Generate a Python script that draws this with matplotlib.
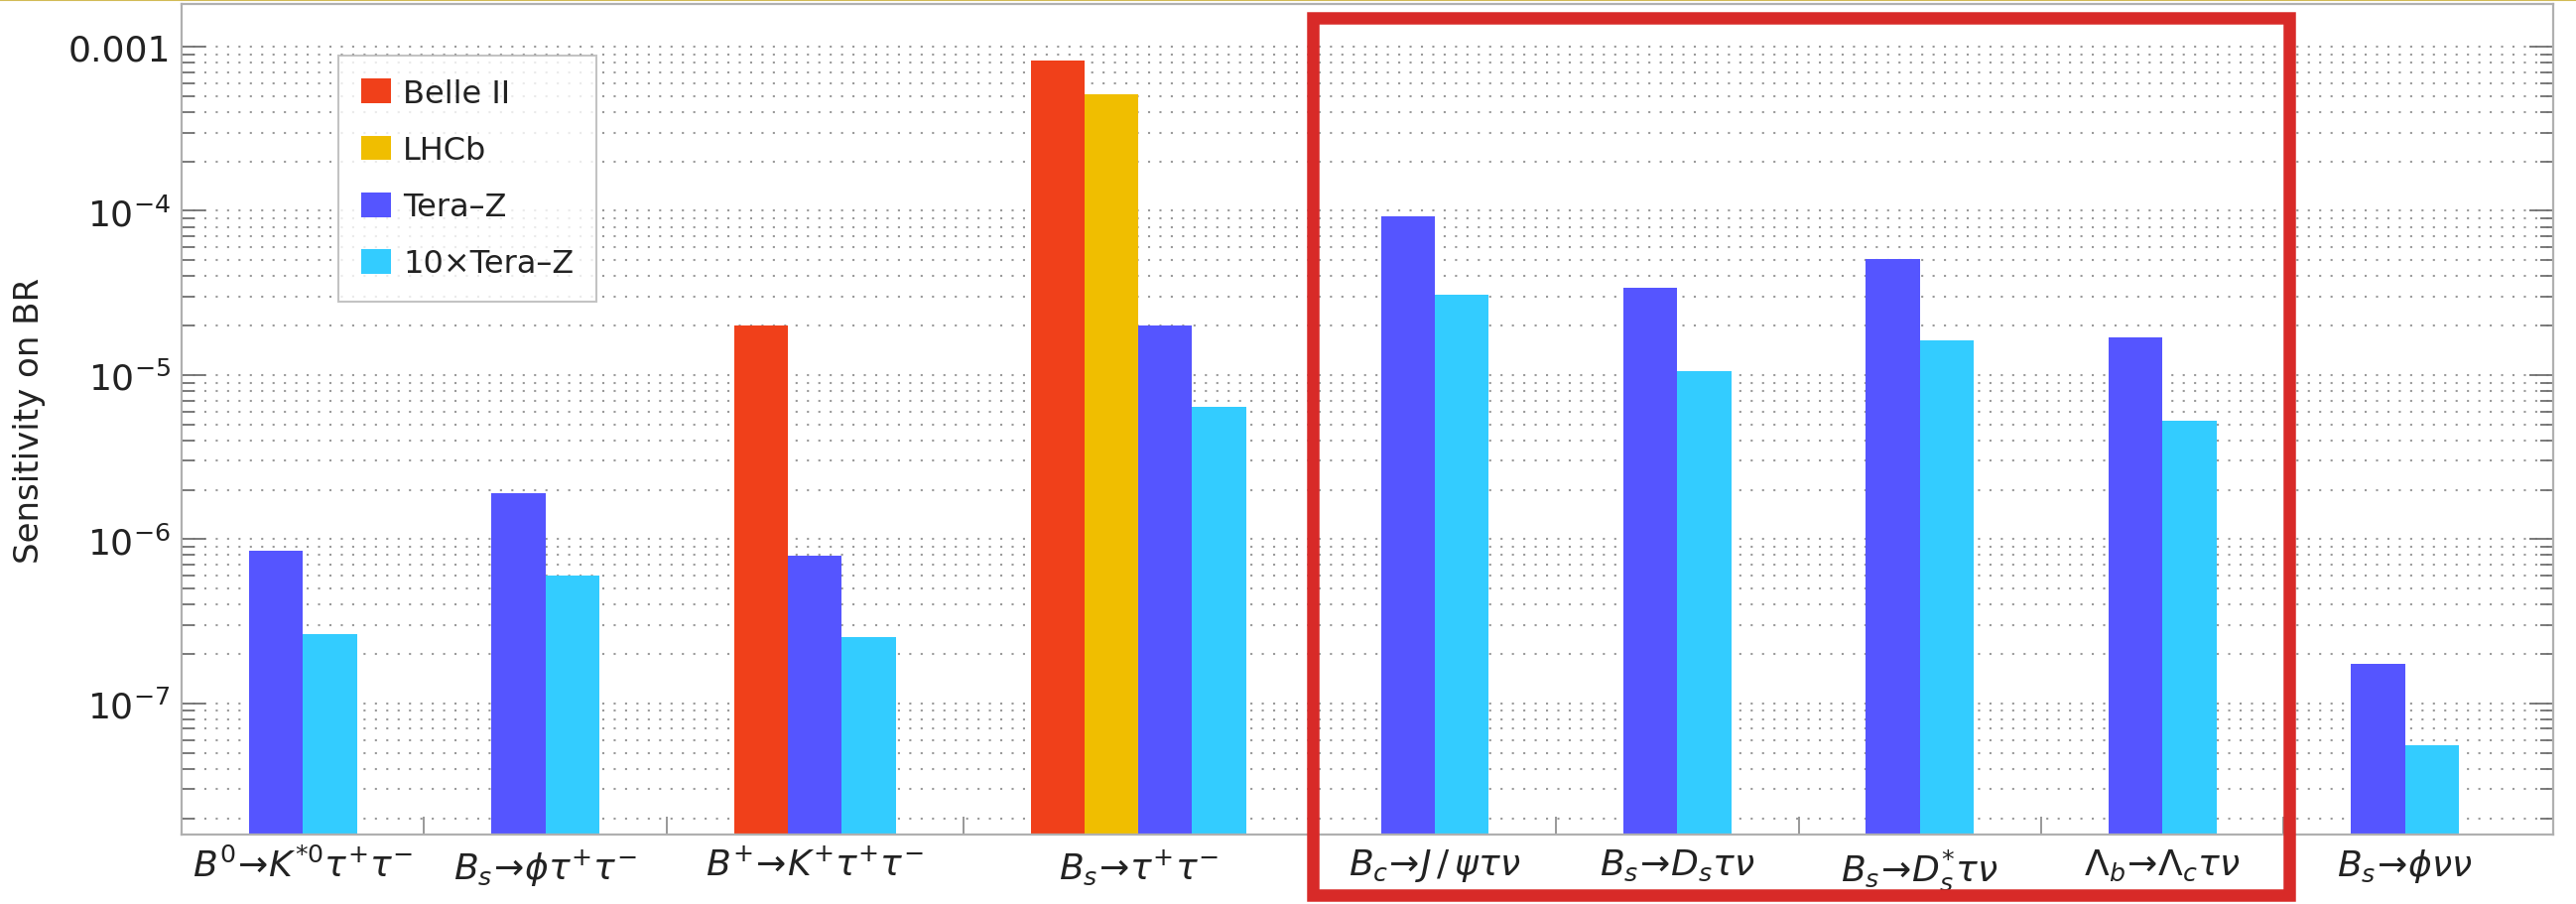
import numpy as np
import matplotlib.pyplot as plt
from matplotlib.patches import Patch, Rectangle
from matplotlib.ticker import LogLocator, FuncFormatter, NullFormatter

# Channels (x groups) and sensitivities
channels = [r"$B^0\!\to\!K^{*0}\tau^{+}\tau^{-}$", r"$B_s\!\to\!\phi\tau^{+}\tau^{-}$",
            r"$B^{+}\!\to\!K^{+}\tau^{+}\tau^{-}$", r"$B_s\!\to\!\tau^{+}\tau^{-}$",
            r"$B_c\!\to\!J\,/\,\psi\tau\nu$", r"$B_s\!\to\!D_s\tau\nu$",
            r"$B_s\!\to\!D_s^{*}\tau\nu$", r"$\Lambda_b\!\to\!\Lambda_c\tau\nu$",
            r"$B_s\!\to\!\phi\nu\nu$"]
belle2 = [None, None, 2.0e-5, 8.2e-4, None, None, None, None, None]
lhcb = [None, None, None, 5.1e-4, None, None, None, None, None]
teraz = [8.5e-7, 1.9e-6, 7.9e-7, 2.0e-5, 9.2e-5, 3.4e-5, 5.1e-5, 1.7e-5, 1.75e-7]
teraz10 = [2.65e-7, 6.0e-7, 2.55e-7, 6.4e-6, 3.1e-5, 1.05e-5, 1.63e-5, 5.3e-6, 5.6e-8]

series_names = ["Belle II", "LHCb", "Tera\u2013Z", "10\u00d7Tera\u2013Z"]
series_vals = [belle2, lhcb, teraz, teraz10]
colors = ["#f0401a", "#f0be00", "#5555ff", "#33ccff"]

W, H = 2596, 912
fig = plt.figure(figsize=(W / 100, H / 100), dpi=100)
ax = fig.add_axes([183 / W, 1 - 842 / H, 2390 / W, 837 / H])

gap = 2.5
cursor = 0.0
centers, boundaries, bar_x = [], [], []
for g in range(len(channels)):
    present = [k for k in range(4) if series_vals[k][g] is not None]
    start = cursor + gap / 2
    for i, k in enumerate(present):
        x = start + i + 0.5
        ax.bar(x, series_vals[k][g], width=1.0, color=colors[k], zorder=2)
        bar_x.append(x)
    centers.append(cursor + (len(present) + gap) / 2)
    cursor += len(present) + gap
    boundaries.append(cursor)

ax.set_yscale("log")
ax.set_ylim(1.59e-8, 1.82e-3)
ax.set_xlim(0, cursor + 0.5)

# y ticks
ax.yaxis.set_major_locator(LogLocator(base=10, numticks=12))
ax.yaxis.set_minor_locator(LogLocator(base=10, subs=np.arange(2, 10), numticks=12))
ax.yaxis.set_major_formatter(FuncFormatter(
    lambda v, p: "0.001" if abs(np.log10(v) + 3) < 0.01 else r"$10^{%d}$" % round(np.log10(v))))
ax.yaxis.set_minor_formatter(NullFormatter())
ax.tick_params(axis="y", which="both", direction="in", left=True, right=True,
               color="#707070", width=1.3, labelsize=26, labelcolor="#222222", pad=8)
ax.tick_params(axis="y", which="major", length=17)
ax.tick_params(axis="y", which="minor", length=9.5)

# x ticks: labels at group centres, small ticks at bar centres
ax.set_xticks(centers)
ax.set_xticklabels(channels, fontsize=26, color="#222222")
ax.set_xticks(bar_x, minor=True)
ax.tick_params(axis="x", which="major", length=0, pad=9)
ax.tick_params(axis="x", which="minor", direction="in", length=5.5, color="#707070", width=1.3)

sec = ax.secondary_xaxis("bottom", functions=(lambda x: x, lambda x: x))
sec.set_xticks(boundaries[:-1])
sec.tick_params(direction="in", length=13, color="#909090", width=1.3, labelbottom=False)
sec.spines["bottom"].set_visible(False)

ax.set_axisbelow(True)
ax.yaxis.grid(True, which="both", linestyle=(0, (1, 4.5)), color="#9a9a9a", linewidth=1.5)

for s in ax.spines.values():
    s.set_color("#b0b0b0")
    s.set_linewidth(1.6)

ax.set_ylabel("Sensitivity on BR", fontsize=24.5, color="#222222")
ax.yaxis.set_label_coords(-0.0575, 0.5)

handles = [Patch(facecolor=c, edgecolor="none", label=n) for c, n in zip(colors, series_names)]
leg = ax.legend(handles=handles, loc="upper left", bbox_to_anchor=(0.0661, 0.938),
                fontsize=23, frameon=True, fancybox=False, borderaxespad=0,
                handlelength=0.94, handleheight=0.81, handletextpad=0.38,
                labelspacing=0.82, borderpad=0.72)
leg.get_frame().set_edgecolor("#b5b5b5")
leg.get_frame().set_linewidth(1.5)
for t in leg.get_texts():
    t.set_color("#222222")

# highlight box and slide edge
fig.add_artist(Rectangle((1323.5 / W, 1 - 902.5 / H), (2307.5 - 1323.5) / W, (902.5 - 19) / H,
                         transform=fig.transFigure, fill=False, edgecolor="#d82a28",
                         linewidth=9, zorder=10))
fig.add_artist(plt.Line2D([0, 1], [1 - 1 / H, 1 - 1 / H], transform=fig.transFigure,
                          color="#d2bb55", linewidth=1.5))

fig.savefig("out.png", dpi=100)
